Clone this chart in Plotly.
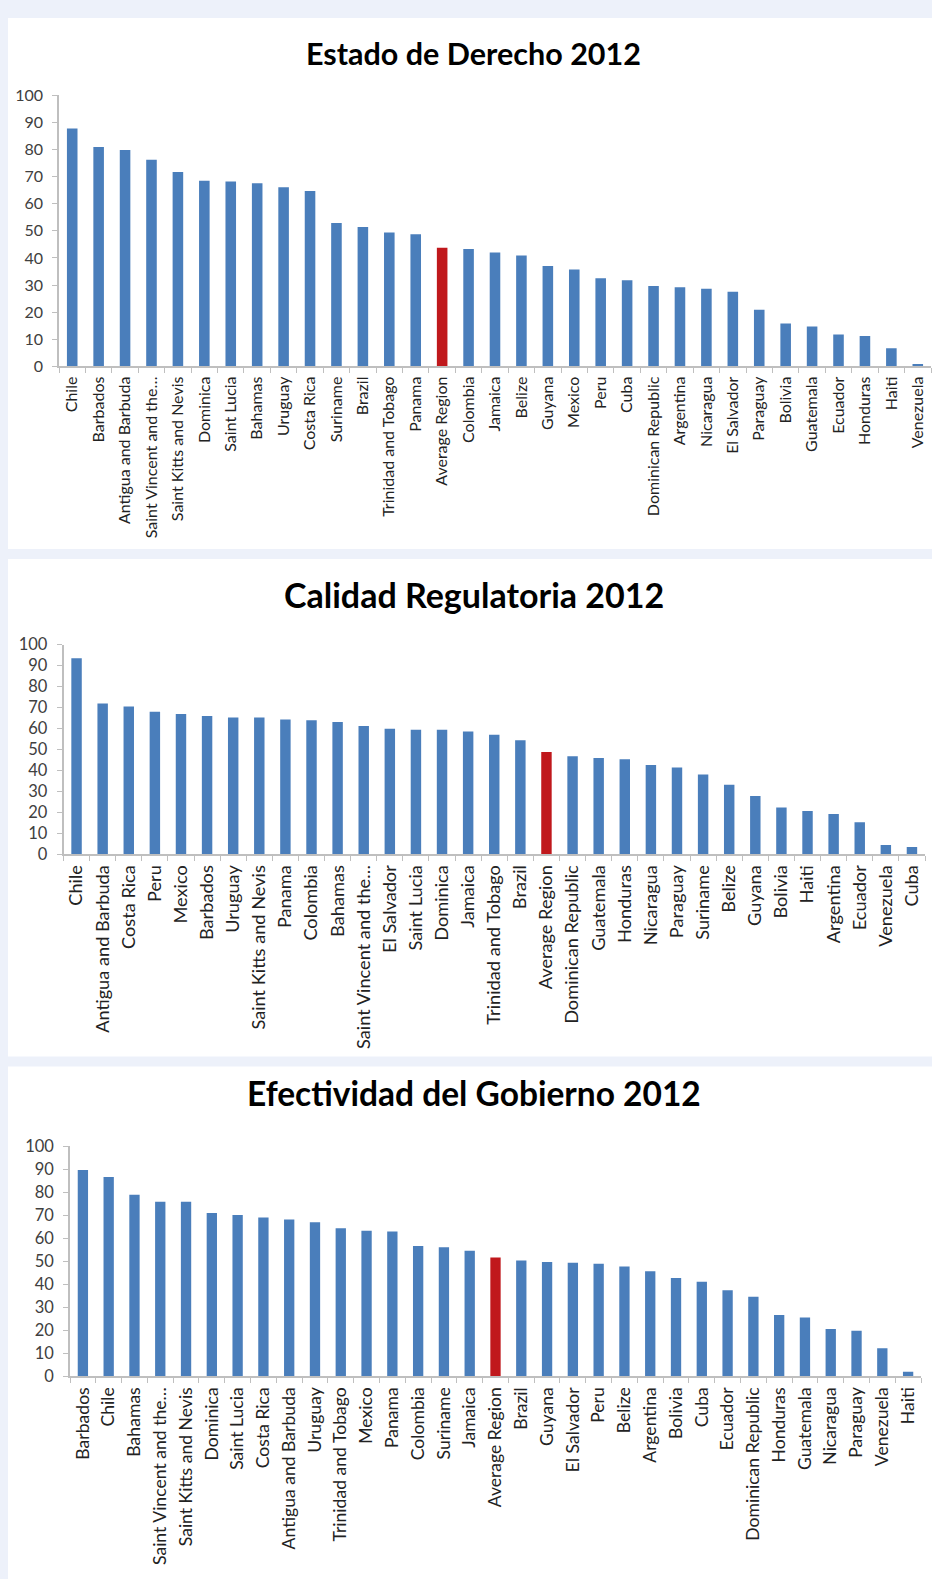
import plotly.graph_objects as go

# ---------------- data ----------------
titles = ["Estado de Derecho 2012", "Calidad Regulatoria 2012", "Efectividad del Gobierno 2012"]

estado_countries = ["Chile", "Barbados", "Antigua and Barbuda", "Saint Vincent and the…", "Saint Kitts and Nevis",
                    "Dominica", "Saint Lucia", "Bahamas", "Uruguay", "Costa Rica", "Suriname", "Brazil",
                    "Trinidad and Tobago", "Panama", "Average Region", "Colombia", "Jamaica", "Belize", "Guyana",
                    "Mexico", "Peru", "Cuba", "Dominican Republic", "Argentina", "Nicaragua", "El Salvador",
                    "Paraguay", "Bolivia", "Guatemala", "Ecuador", "Honduras", "Haiti", "Venezuela"]
estado_values = [87.7, 80.9, 79.8, 76.2, 71.7, 68.5, 68.2, 67.5, 66.1, 64.7, 52.9, 51.4,
                 49.4, 48.7, 43.8, 43.3, 42.0, 40.9, 37.0, 35.7, 32.5, 31.8, 29.7, 29.2,
                 28.6, 27.5, 20.9, 15.8, 14.7, 11.8, 11.2, 6.7, 0.9]

calidad_countries = ["Chile", "Antigua and Barbuda", "Costa Rica", "Peru", "Mexico", "Barbados", "Uruguay",
                     "Saint Kitts and Nevis", "Panama", "Colombia", "Bahamas", "Saint Vincent and the…",
                     "El Salvador", "Saint Lucia", "Dominica", "Jamaica", "Trinidad and Tobago", "Brazil",
                     "Average Region", "Dominican Republic", "Guatemala", "Honduras", "Nicaragua", "Paraguay",
                     "Suriname", "Belize", "Guyana", "Bolivia", "Haiti", "Argentina", "Ecuador", "Venezuela", "Cuba"]
calidad_values = [93.5, 71.9, 70.5, 68.0, 66.9, 65.9, 65.2, 65.2, 64.2, 63.9, 63.0, 61.1,
                  59.8, 59.4, 59.4, 58.5, 57.0, 54.4, 48.8, 46.7, 45.9, 45.3, 42.5, 41.4,
                  38.0, 33.1, 27.8, 22.3, 20.6, 19.2, 15.2, 4.4, 3.4]

efectividad_countries = ["Barbados", "Chile", "Bahamas", "Saint Vincent and the…", "Saint Kitts and Nevis",
                         "Dominica", "Saint Lucia", "Costa Rica", "Antigua and Barbuda", "Uruguay",
                         "Trinidad and Tobago", "Mexico", "Panama", "Colombia", "Suriname", "Jamaica",
                         "Average Region", "Brazil", "Guyana", "El Salvador", "Peru", "Belize", "Argentina",
                         "Bolivia", "Cuba", "Ecuador", "Dominican Republic", "Honduras", "Guatemala",
                         "Nicaragua", "Paraguay", "Venezuela", "Haiti"]
efectividad_values = [89.6, 86.6, 78.9, 75.9, 75.9, 71.0, 70.1, 69.0, 68.1, 67.0, 64.4, 63.3,
                      62.9, 56.6, 56.1, 54.6, 51.7, 50.3, 49.7, 49.4, 48.9, 47.7, 45.7, 42.7,
                      41.1, 37.4, 34.6, 26.7, 25.6, 20.6, 19.9, 12.3, 2.1]

y_ticks = [0, 10, 20, 30, 40, 50, 60, 70, 80, 90, 100]

# ---------------- styling ----------------
W, H = 932, 1579
BLUE = "#4A7EBB"
RED = "#C0181C"
AXIS = "#BFBFBF"
TXT = "#404040"
BG = "#EDF1FA"
FONT = "Lato"

def px(x):
    return x / W

def py(y):
    return 1 - y / H

# (categories, values, plot x-range px, plot y-range px, white panel y-range px,
#  title y px, title size, x tick size, y tick size)
panels = [
    (estado_countries, estado_values, (59, 931), (86.3, 361), (8, 546), 44, 30.5, 16, 16),
    (calidad_countries, calidad_values, (63.5, 925), (642.7, 855), (556, 1060), 592, 34, 18.2, 16.5),
    (efectividad_countries, efectividad_values, (70, 921), (1150.7, 1384), (1070, 1579), 1097, 33.5, 17.6, 16.5),
]

fig = go.Figure()
shapes = []
annotations = []
layout_axes = {}

for i, (cats, vals, (x0, x1), (ytop, ybot), (pt, pb), ty, tsize, xsize, ysize) in enumerate(panels):
    n = i + 1
    suffix = "" if n == 1 else str(n)
    colors = [RED if c == "Average Region" else BLUE for c in cats]
    fig.add_trace(go.Bar(
        x=cats, y=vals, marker=dict(color=colors, line=dict(width=0)),
        xaxis="x" + suffix, yaxis="y" + suffix, showlegend=False,
    ))
    layout_axes["xaxis" + suffix] = dict(
        domain=[px(x0), px(x1)], anchor="y" + suffix,
        type="category", tickangle=-90, tickson="boundaries",
        ticks="outside", ticklen=5, tickcolor=AXIS, tickwidth=1,
        showline=True, linecolor=AXIS, linewidth=1.5,
        showgrid=False, zeroline=False,
        tickfont=dict(family=FONT, size=xsize, color="#222222"),
        ticklabelstandoff=2,
        fixedrange=True,
    )
    layout_axes["yaxis" + suffix] = dict(
        domain=[py(ybot), py(ytop)], anchor="x" + suffix,
        range=[0, 100], tickvals=y_ticks,
        ticks="outside", ticklen=5, tickcolor=AXIS, tickwidth=1,
        showline=True, linecolor=AXIS, linewidth=1.5,
        showgrid=False, zeroline=False,
        tickfont=dict(family=FONT, size=ysize, color=TXT),
        ticklabelstandoff=6,
        fixedrange=True,
    )
    shapes.append(dict(type="rect", xref="paper", yref="paper",
                       x0=px(8), x1=1.01, y0=py(pb) - (0.01 if n == 3 else 0), y1=py(pt),
                       fillcolor="white", line=dict(width=0), layer="below"))
    annotations.append(dict(text="<b>" + titles[i] + "</b>", xref="paper", yref="paper",
                            x=px(474), y=py(ty), xanchor="center", yanchor="middle",
                            showarrow=False, font=dict(family=FONT, size=tsize, color="black")))

fig.update_layout(
    width=W, height=H, margin=dict(l=0, r=0, t=0, b=0),
    paper_bgcolor=BG, plot_bgcolor="rgba(0,0,0,0)",
    bargap=0.6, shapes=shapes, annotations=annotations,
    **layout_axes,
)

fig.write_html(
    "out.html",
    config={"displayModeBar": False},
    post_script="document.body.style.margin='0';document.body.style.overflow='hidden';",
)
